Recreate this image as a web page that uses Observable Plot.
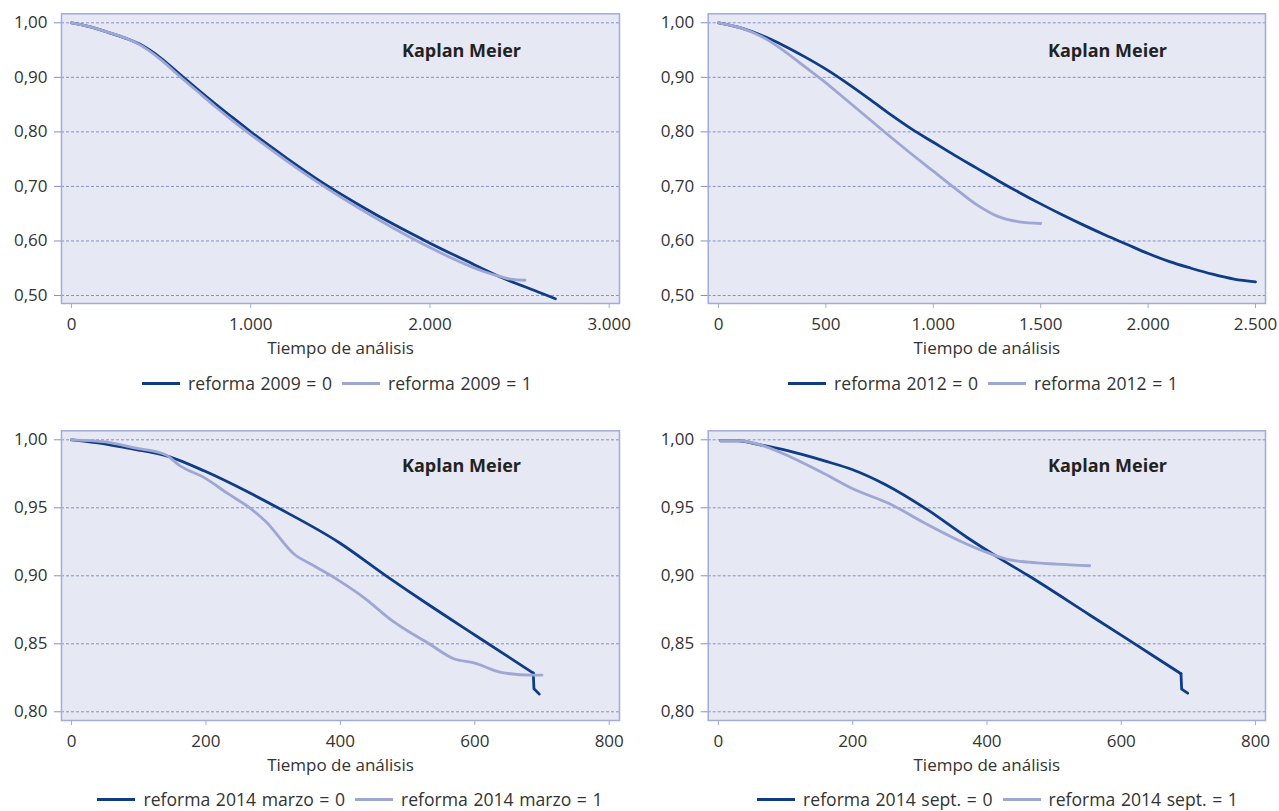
<!DOCTYPE html>
<html><head><meta charset="utf-8">
<script src="https://cdn.jsdelivr.net/npm/d3@7"></script>
<script src="https://cdn.jsdelivr.net/npm/@observablehq/plot@0.6"></script>
<style>
body{margin:0;background:#fff;font-family:"Open Sans",sans-serif;}
#root{position:relative;width:1279px;height:811px;overflow:hidden;}
.panel{position:absolute;}
.legend{position:absolute;display:flex;justify-content:center;align-items:center;font-size:17.6px;line-height:20px;color:#333;white-space:nowrap;height:20px;width:700px;}
.sw{display:inline-block;width:38px;height:3px;margin-right:8px;}
.lab{margin-right:10px;word-spacing:1px;}
.lab:last-child{margin-right:0;}
</style></head><body><div id="root"></div>
<script>
// ---- data ----
const t09_0 = [0,100,200,300,380,500,600,700,800,900,1000,1200,1400,1600,1800,2000,2200,2400,2600,2700];
const s09_0 = [1.000,0.993,0.983,0.972,0.961,0.935,0.907,0.879,0.852,0.826,0.800,0.752,0.707,0.667,0.630,0.596,0.564,0.533,0.507,0.494];
const t09_1 = [0,100,200,300,380,500,600,700,800,900,1000,1200,1400,1600,1800,2000,2200,2300,2400,2450,2530];
const s09_1 = [1.000,0.993,0.983,0.972,0.960,0.932,0.903,0.875,0.847,0.820,0.795,0.747,0.702,0.661,0.623,0.588,0.557,0.544,0.534,0.530,0.528];

const t12_0 = [0,100,200,300,400,500,600,700,800,900,1000,1100,1200,1300,1400,1500,1600,1700,1800,1900,2000,2100,2200,2300,2400,2500];
const s12_0 = [1.000,0.991,0.977,0.959,0.938,0.915,0.889,0.861,0.832,0.805,0.781,0.757,0.734,0.711,0.689,0.668,0.648,0.629,0.611,0.594,0.577,0.562,0.550,0.539,0.530,0.525];
const t12_1 = [0,100,200,300,400,500,600,700,800,900,1000,1100,1200,1300,1400,1500];
const s12_1 = [1.000,0.991,0.975,0.950,0.920,0.890,0.857,0.824,0.791,0.759,0.728,0.697,0.667,0.645,0.635,0.632];

// main curve, then the final step drop (drawn straight)
const t14m_0 = [0,36,94,146,198,259,307,398,468,532,600,687];
const s14m_0 = [1.000,0.998,0.993,0.9875,0.977,0.9625,0.950,0.9245,0.900,0.8785,0.8565,0.8285];
const t14m_0drop = [687,688,696];
const s14m_0drop = [0.8285,0.817,0.813];
const t14m_1 = [0,50,94,140,161,198,234,265,289,331,362,398,435,477,532,569,599,639,684,700];
const s14m_1 = [1.000,0.9985,0.994,0.989,0.981,0.972,0.960,0.950,0.940,0.916,0.907,0.8965,0.884,0.867,0.850,0.839,0.836,0.829,0.827,0.827];

const t14s_0 = [3,30,55,103,158,200,249,310,371,425,462,553,601,644,689];
const s14s_0 = [0.9993,0.9993,0.997,0.992,0.9845,0.978,0.967,0.949,0.928,0.911,0.900,0.8712,0.856,0.8423,0.828];
const t14s_0drop = [689,690,699];
const s14s_0drop = [0.828,0.8167,0.8137];
const t14s_1 = [3,30,67,109,158,200,255,310,358,401,431,462,504,553];
const s14s_1 = [0.9993,0.9993,0.9956,0.987,0.975,0.964,0.953,0.938,0.926,0.917,0.912,0.910,0.9086,0.9074];

const xTicksA = [0,1000,2000,3000];
const xTicksB = [0,500,1000,1500,2000,2500];
const xTicksC = [0,200,400,600,800];
const yTicksTop = [0.5,0.6,0.7,0.8,0.9,1.0];
const yTicksBot = [0.80,0.85,0.90,0.95,1.00];

const legend09 = ["reforma 2009 = 0","reforma 2009 = 1"];
const legend12 = ["reforma 2012 = 0","reforma 2012 = 1"];
const legend14m = ["reforma 2014 marzo = 0","reforma 2014 marzo = 1"];
const legend14s = ["reforma 2014 sept. = 0","reforma 2014 sept. = 1"];

const xLabel = "Tiempo de análisis";
const title = "Kaplan Meier";

// ---- styling ----
const DARK = "#0e3c86", LIGHT = "#9ea6d4", BG = "#e6e8f4", FRAME = "#a3abd8", GRID = "#8790c8";
const loc = d3.formatLocale({decimal: ",", thousands: ".", grouping: [3], currency: ["", " €"]});
const fx = loc.format(",d");
const fy = loc.format(".2f");

const zip = (t, s) => t.map((d, i) => ({t: d, s: s[i]}));
const root = document.getElementById("root");

function panel(cfg) {
  const marks = [
    Plot.frame({fill: BG, stroke: null}),
    Plot.ruleY(cfg.yt, {stroke: GRID, strokeDasharray: "3,2", strokeWidth: 1}),
    Plot.line(zip(cfg.t0, cfg.s0), {x: "t", y: "s", stroke: DARK, strokeWidth: 2.8, curve: "monotone-x"})
  ];
  if (cfg.td) marks.push(Plot.line(zip(cfg.td, cfg.sd), {x: "t", y: "s", stroke: DARK, strokeWidth: 2.8, curve: "linear"}));
  marks.push(
    Plot.line(zip(cfg.t1, cfg.s1), {x: "t", y: "s", stroke: LIGHT, strokeWidth: 2.8, curve: "monotone-x"}),
    Plot.frame({stroke: FRAME, strokeWidth: 1.5}),
    Plot.axisX({ticks: cfg.xt, tickFormat: fx, tickSize: 5, tickPadding: 9, stroke: FRAME, label: null, fill: "#333"}),
    Plot.axisY({ticks: cfg.yt, tickFormat: fy, tickSize: 7, tickPadding: 7, stroke: GRID, label: null, fill: "#333"}),
    Plot.text([xLabel], {text: d => d, frameAnchor: "bottom", lineAnchor: "middle", dy: 45, fill: "#333", fontSize: 17}),
    Plot.text([title], {text: d => d, frameAnchor: "top-right", lineAnchor: "middle", dx: -158, dy: cfg.kdy, textAnchor: "middle", fontWeight: "bold", fontSize: 18, fill: "#222"})
  );
  const p = Plot.plot({
    width: cfg.width, height: 360,
    marginLeft: cfg.ml, marginRight: cfg.mr, marginTop: 13.3, marginBottom: 57,
    style: {fontFamily: "Open Sans", fontSize: "17px", color: "#333", background: "transparent", overflow: "visible"},
    x: {domain: cfg.xd},
    y: {domain: cfg.yd},
    marks
  });
  const wrap = document.createElement("div");
  wrap.className = "panel";
  wrap.style.left = cfg.left + "px";
  wrap.style.top = cfg.top + "px";
  wrap.appendChild(p);
  root.appendChild(wrap);

  const lg = document.createElement("div");
  lg.className = "legend";
  lg.style.left = (cfg.lgx - 350) + "px";
  lg.style.top = (cfg.lgy - 10) + "px";
  [DARK, LIGHT].forEach((c, i) => {
    const sw = document.createElement("span");
    sw.className = "sw"; sw.style.background = c;
    const lb = document.createElement("span");
    lb.className = "lab"; lb.textContent = cfg.legend[i];
    lg.appendChild(sw); lg.appendChild(lb);
  });
  root.appendChild(lg);
}

panel({left: 0, top: 0, width: 640, ml: 61, mr: 21, xd: [-55.8, 3057.5], yd: [0.48533, 1.0165], xt: xTicksA, yt: yTicksTop,
  t0: t09_0, s0: s09_0, t1: t09_1, s1: s09_1, kdy: 37, legend: legend09, lgx: 337, lgy: 383});
panel({left: 640, top: 0, width: 639, ml: 67.7, mr: 14, xd: [-47.95, 2546.6], yd: [0.48533, 1.0165], xt: xTicksB, yt: yTicksTop,
  t0: t12_0, s0: s12_0, t1: t12_1, s1: s12_1, kdy: 37, legend: legend12, lgx: 983, lgy: 383});
panel({left: 0, top: 417, width: 640, ml: 61, mr: 21, xd: [-14.9, 815.3], yd: [0.7936, 1.00662], xt: xTicksC, yt: yTicksBot,
  t0: t14m_0, s0: s14m_0, td: t14m_0drop, sd: s14m_0drop, t1: t14m_1, s1: s14m_1, kdy: 35, legend: legend14m, lgx: 350, lgy: 799});
panel({left: 640, top: 417, width: 639, ml: 67.7, mr: 14, xd: [-15.3, 814.9], yd: [0.7936, 1.00662], xt: xTicksC, yt: yTicksBot,
  t0: t14s_0, s0: s14s_0, td: t14s_0drop, sd: s14s_0drop, t1: t14s_1, s1: s14s_1, kdy: 35, legend: legend14s, lgx: 997.5, lgy: 799});
</script>
</body></html>
